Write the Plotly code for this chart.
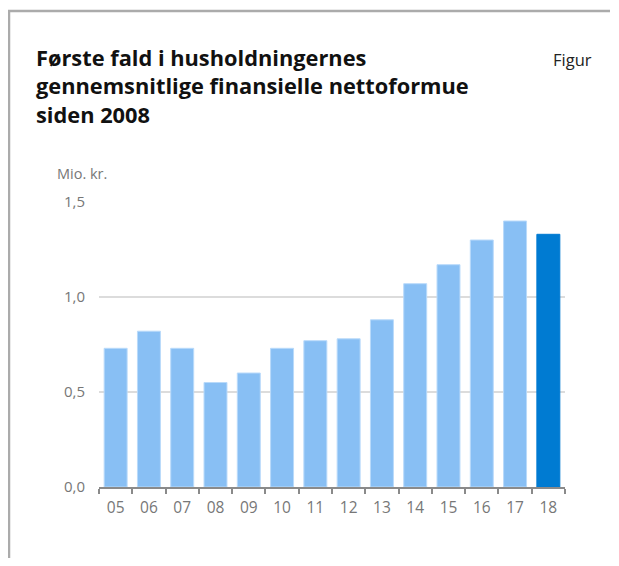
import plotly.graph_objects as go

years = ["05", "06", "07", "08", "09", "10", "11", "12", "13", "14", "15", "16", "17", "18"]
values = [0.73, 0.82, 0.73, 0.55, 0.60, 0.73, 0.77, 0.78, 0.88, 1.07, 1.17, 1.30, 1.40, 1.33]
y_ticks = [0, 0.5, 1.0, 1.5]
y_tick_labels = ["0,0", "0,5", "1,0", "1,5"]

light = "#88bff4"
dark = "#007bd2"
colors = [light] * (len(years) - 1) + [dark]
line_colors = ["#b9dafa"] * (len(years) - 1) + [dark]

# page has an 8px body margin; figure is sized to fit inside the viewport
W, H = 603, 550
L, T = 91, 194
pw, ph = 466, 285
R, B = W - L - pw, H - T - ph

def px(x):
    return (x - L) / pw

def py(y):
    return (H - B - y) / ph

FONT = "Open Sans"

fig = go.Figure(go.Bar(
    x=years, y=values,
    marker=dict(color=colors, line=dict(color=line_colors, width=1)),
    hoverinfo="skip",
))

fig.update_layout(
    width=W, height=H,
    margin=dict(l=L, r=R, t=T, b=B),
    paper_bgcolor="white", plot_bgcolor="white",
    bargap=0.31,
    showlegend=False,
    font=dict(family=FONT, color="#777777", size=14),
    xaxis=dict(
        type="category",
        showgrid=False,
        showline=True, linecolor="#8a8a8a", linewidth=2,
        ticks="outside", tickson="boundaries", ticklen=5,
        tickcolor="#8a8a8a", tickwidth=1.5,
        ticklabelstandoff=5,
        tickfont=dict(size=15.5, color="#777777"),
    ),
    yaxis=dict(
        range=[0, 1.5],
        tickvals=y_ticks, ticktext=y_tick_labels,
        showgrid=True, gridcolor="#dcdcdc", gridwidth=1.5,
        zeroline=False, showline=False,
        ticks="", ticklabelstandoff=13,
        tickfont=dict(size=15, color="#777777"),
    ),
    shapes=[
        dict(type="line", xref="paper", yref="paper",
             x0=px(0), x1=px(W - 1), y0=py(3), y1=py(3),
             line=dict(color="#ababab", width=2.5)),
        dict(type="line", xref="paper", yref="paper",
             x0=px(1), x1=px(1), y0=py(3), y1=py(H),
             line=dict(color="#ababab", width=2.5)),
    ],
    annotations=[
        dict(text="<b>Første fald i husholdningernes<br>gennemsnitlige finansielle nettoformue<br>siden 2008</b>",
             xref="paper", yref="paper", x=px(26), y=py(33),
             xanchor="left", yanchor="top", align="left", showarrow=False,
             font=dict(family=FONT, size=21.8, color="#111111")),
        dict(text="Figur", xref="paper", yref="paper", x=px(586), y=py(38),
             xanchor="right", yanchor="top", showarrow=False,
             font=dict(family=FONT, size=16.5, color="#222222")),
        dict(text="Mio. kr.", xref="paper", yref="paper", x=px(47), y=py(154),
             xanchor="left", yanchor="top", showarrow=False,
             font=dict(family=FONT, size=14.5, color="#777777")),
    ],
)

fig.write_html("out.html", config={"displayModeBar": False})
